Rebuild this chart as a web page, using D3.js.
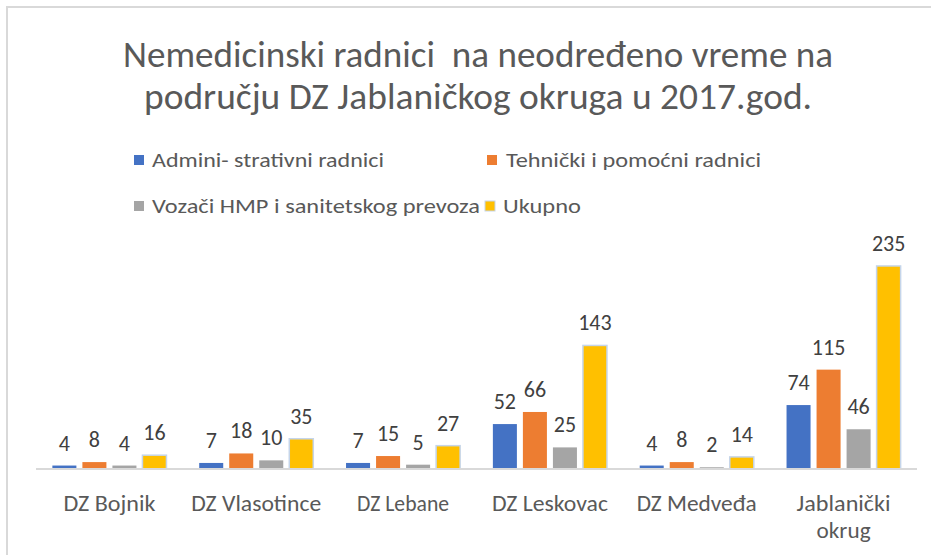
<!DOCTYPE html>
<html><head><meta charset="utf-8">
<script src="https://cdn.jsdelivr.net/npm/d3@7"></script>
<style>body{margin:0;background:#fff}svg{display:block}text{font-family:Carlito,Calibri,Lato,"Open Sans",sans-serif}</style>
</head><body><svg width="931" height="555"></svg>
<script>
const categories = ["DZ Bojnik","DZ Vlasotince","DZ Lebane","DZ Leskovac","DZ Medveđa","Jablanički okrug"];
const seriesNames = ["Admini- strativni radnici","Tehnički i pomoćni radnici","Vozači HMP i sanitetskog prevoza","Ukupno"];
const administrativni = [4,7,7,52,4,74];
const tehnicki = [8,18,15,66,8,115];
const vozaci = [4,10,5,25,2,46];
const ukupno = [16,35,27,143,14,235];
const seriesValues = [administrativni, tehnicki, vozaci, ukupno];
const colors = ["#4472C4","#ED7D31","#A5A5A5","#FFC000"];
const titleLines = ["Nemedicinski radnici  na neodređeno vreme na","području DZ Jablaničkog okruga u 2017.god."];

const svg = d3.select("svg");
svg.append("rect").attr("width",931).attr("height",555).attr("fill","#fff");
svg.append("rect").attr("x",7).attr("y",7).attr("width",940).attr("height",560)
  .attr("fill","none").attr("stroke","#d9d9d9").attr("stroke-width",2);

function fit(sel, w){ sel.attr("textLength", w).attr("lengthAdjust","spacingAndGlyphs"); }

// title
const titleW = [710, 668];
titleLines.forEach((t,i)=>{
  const tx = svg.append("text").attr("x",478).attr("y",67+i*42).attr("text-anchor","middle")
    .attr("font-size",37).attr("font-weight",300).attr("fill","#595959").style("white-space","pre").text(t);
  fit(tx, titleW[i]);
});

// legend
const legendPos = [[134,155,152,232],[487,155,506,255],[134,201,152,328],[485,201,503,78]];
seriesNames.forEach((n,i)=>{
  const [sx,sy,tx,tw] = legendPos[i];
  svg.append("rect").attr("x",sx).attr("y",sy).attr("width",10).attr("height",10).attr("fill",colors[i])
    .attr("stroke", i===3 ? "#c5d5ea" : "none");
  const t = svg.append("text").attr("x",tx).attr("y",sy+12).attr("font-size",20).attr("fill","#595959").text(n);
  fit(t, tw);
});

// scales
const x0 = d3.scaleBand().domain(categories).range([36,917]).paddingInner(0.223).paddingOuter(0.1115);
const x1 = d3.scaleBand().domain(d3.range(4)).range([0,x0.bandwidth()]).paddingInner(0.2);
const y = d3.scaleLinear().domain([0,250]).range([469,469-216]);

const g = svg.append("g");
categories.forEach((c,ci)=>{
  seriesValues.forEach((vals,si)=>{
    const v = vals[ci];
    const bx = x0(c)+x1(si);
    g.append("rect").attr("x",bx).attr("y",y(v)).attr("width",x1.bandwidth()).attr("height",y(0)-y(v))
      .attr("fill",colors[si]).attr("stroke", si===3 ? "#c5d5ea":"none").attr("stroke-width",1.5);
    g.append("text").attr("x",bx+x1.bandwidth()/2).attr("y",y(v)-15).attr("text-anchor","middle")
      .attr("font-size",22).attr("fill","#404040").text(v);
  });
});

// axis
const catW = {"DZ Bojnik":92,"DZ Vlasotince":130,"DZ Lebane":92,"DZ Leskovac":116,"DZ Medveđa":120,"Jablanički":94,"okrug":54};
const xAxis = d3.axisBottom(x0).tickSize(0).tickPadding(0);
const ax = svg.append("g").attr("transform","translate(0,469)").call(xAxis);
ax.select(".domain").attr("stroke","#d9d9d9").attr("stroke-width",2).attr("d","M36,0H917");
ax.selectAll(".tick text").remove();
ax.selectAll(".tick").each(function(d){
  const words = d==="Jablanički okrug" ? ["Jablanički","okrug"] : [d];
  words.forEach((w,i)=>{
    const t = d3.select(this).append("text").attr("text-anchor","middle").attr("font-size",22).attr("fill","#595959")
      .attr("x",0).attr("y",42+i*27).text(w);
    fit(t, catW[w]);
  });
});
</script></body></html>
